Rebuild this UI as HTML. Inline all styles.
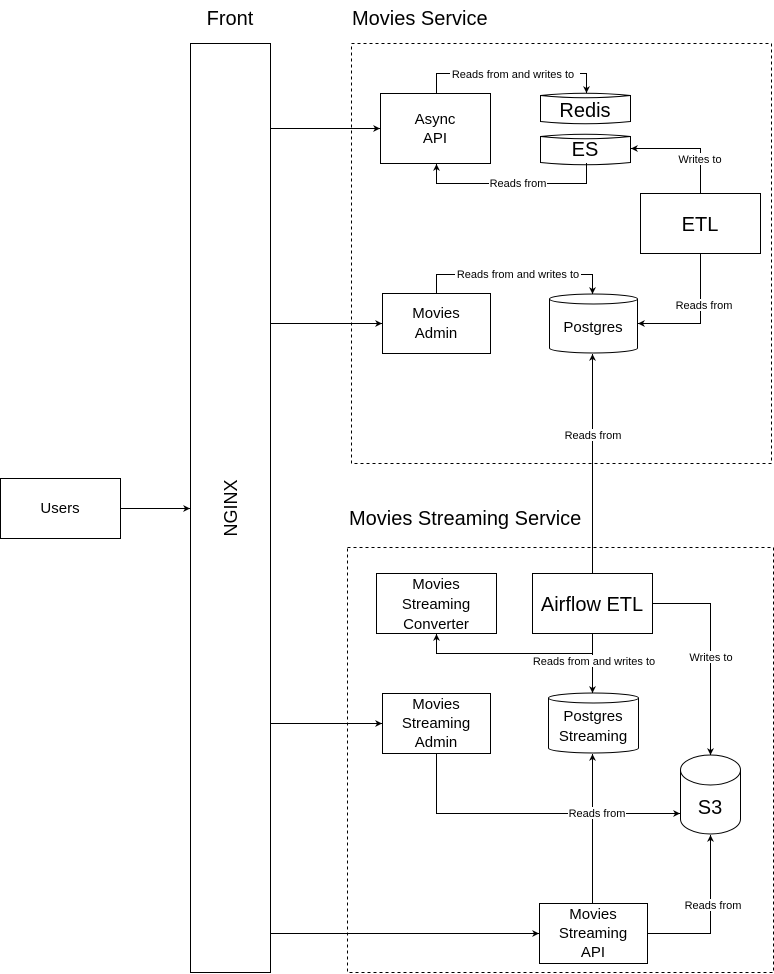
<!DOCTYPE html>
<html><head><meta charset="utf-8"><style>
html,body{margin:0;padding:0;background:#fff;}
svg{display:block;font-family:"Liberation Sans",Helvetica,Arial,sans-serif;}
</style></head><body>
<svg width="774" height="974" viewBox="0 0 774 974" xmlns="http://www.w3.org/2000/svg">
<defs>
<marker id="a" viewBox="0 0 10 10" refX="10" refY="5" markerWidth="7" markerHeight="7" orient="auto" markerUnits="userSpaceOnUse">
<path d="M0,0 L10,5 L0,10 L3,5 z" fill="#000"/>
</marker>
</defs>
<rect width="774" height="974" fill="#fff"/>
<g fill="none" stroke="#000" stroke-width="1">
<rect x="351.5" y="43.5" width="420" height="420" stroke-dasharray="3,3"/>
<rect x="347.5" y="547.5" width="426" height="425" stroke-dasharray="3,3"/>
<rect x="190.5" y="43.5" width="80" height="929"/>
<rect x="0.5" y="478.5" width="120" height="60"/>
<rect x="380.5" y="93.5" width="110" height="70"/>
<rect x="640.5" y="193.5" width="120" height="60"/>
<rect x="382.5" y="293.5" width="108" height="60"/>
<rect x="376.5" y="573.5" width="120" height="60"/>
<rect x="532.5" y="573.5" width="120" height="60"/>
<rect x="382.5" y="693.5" width="108" height="60"/>
<rect x="539.5" y="903.5" width="108" height="60"/>
<path d="M540.5,95.5 Q585,91 630.5,95.5 L630.5,121.5 Q585,126 540.5,121.5 Z"/>
<path d="M540.5,95.5 Q585,100 630.5,95.5"/>
<path d="M540.5,136.5 Q585,132 630.5,136.5 L630.5,162.5 Q585,167 540.5,162.5 Z"/>
<path d="M540.5,136.5 Q585,141 630.5,136.5"/>
<path d="M549.5,299 A44,5 0 0 1 637.5,299 L637.5,348 A44,5 0 0 1 549.5,348 Z"/>
<path d="M549.5,299 A44,5 0 0 0 637.5,299"/>
<path d="M548.5,698 A45,5 0 0 1 638.5,698 L638.5,748 A45,5 0 0 1 548.5,748 Z"/>
<path d="M548.5,698 A45,5 0 0 0 638.5,698"/>
<path d="M680.5,770 A30,15 0 0 1 740.5,770 L740.5,819 A30,15 0 0 1 680.5,819 Z"/>
<path d="M680.5,770 A30,15 0 0 0 740.5,770"/>
</g>
<g fill="none" stroke="#000" stroke-width="1" marker-end="url(#a)">
<path d="M120,508.5 H190"/>
<path d="M270,128.5 H380"/>
<path d="M270,323.5 H382"/>
<path d="M270,723.5 H382"/>
<path d="M270,933.5 H539"/>
<path d="M436.5,93 V73.5 H586.5 V93"/>
<path d="M586.5,163 V183.5 H436.5 V164"/>
<path d="M700.5,193 V148.5 H631"/>
<path d="M700.5,254 V323.5 H638"/>
<path d="M436.5,293 V274.5 H592.5 V294"/>
<path d="M592.5,573 V354"/>
<path d="M592.5,633 V653.5 H436.5 V634"/>
<path d="M592.5,653 V693"/>
<path d="M652,603.5 H710.5 V755"/>
<path d="M436.5,754 V813.5 H680"/>
<path d="M592.5,903 V754"/>
<path d="M647,933.5 H710.5 V835"/>
</g>
<g font-size="11" fill="#000" text-anchor="middle">
<rect x="450" y="68" width="130" height="12" fill="#fff"/>
<text x="513" y="78">Reads from and writes to</text>
<rect x="489" y="177" width="58" height="12" fill="#fff"/>
<text x="518" y="187">Reads from</text>
<rect x="676" y="153" width="48" height="12" fill="#fff"/>
<text x="700" y="163">Writes to</text>
<rect x="674" y="299" width="60" height="12" fill="#fff"/>
<text x="704" y="309">Reads from</text>
<rect x="455" y="268" width="126" height="12" fill="#fff"/>
<text x="518" y="278">Reads from and writes to</text>
<rect x="563" y="429" width="60" height="12" fill="#fff"/>
<text x="593" y="439">Reads from</text>
<rect x="530" y="655" width="128" height="12" fill="#fff"/>
<text x="594" y="665">Reads from and writes to</text>
<rect x="688" y="651" width="46" height="12" fill="#fff"/>
<text x="711" y="661">Writes to</text>
<rect x="568" y="807" width="58" height="12" fill="#fff"/>
<text x="597" y="817">Reads from</text>
<rect x="683" y="899" width="60" height="12" fill="#fff"/>
<text x="713" y="909">Reads from</text>
</g>
<g font-size="15" fill="#000" text-anchor="middle">
<text x="60" y="513">Users</text>
<text x="435" y="124">Async</text><text x="435" y="143">API</text>
<text x="436" y="318">Movies</text><text x="436" y="338">Admin</text>
<text x="593" y="332">Postgres</text>
<text x="436" y="589">Movies</text><text x="436" y="609">Streaming</text><text x="436" y="629">Converter</text>
<text x="436" y="709">Movies</text><text x="436" y="728">Streaming</text><text x="436" y="747">Admin</text>
<text x="593" y="721">Postgres</text><text x="593" y="741">Streaming</text>
<text x="593" y="919">Movies</text><text x="593" y="938">Streaming</text><text x="593" y="957">API</text>
</g>
<g font-size="20" fill="#000" text-anchor="middle">
<text x="230" y="25">Front</text>
<text x="585" y="117">Redis</text>
<text x="585" y="156">ES</text>
<text x="700" y="231">ETL</text>
<text x="592" y="611">Airflow ETL</text>
<text x="710" y="814">S3</text>
<text transform="translate(237,508) rotate(-90)" font-size="18">NGINX</text>
</g>
<g font-size="20" fill="#000">
<text x="352" y="25">Movies Service</text>
<text x="349" y="525">Movies Streaming Service</text>
</g>
</svg>
</body></html>
